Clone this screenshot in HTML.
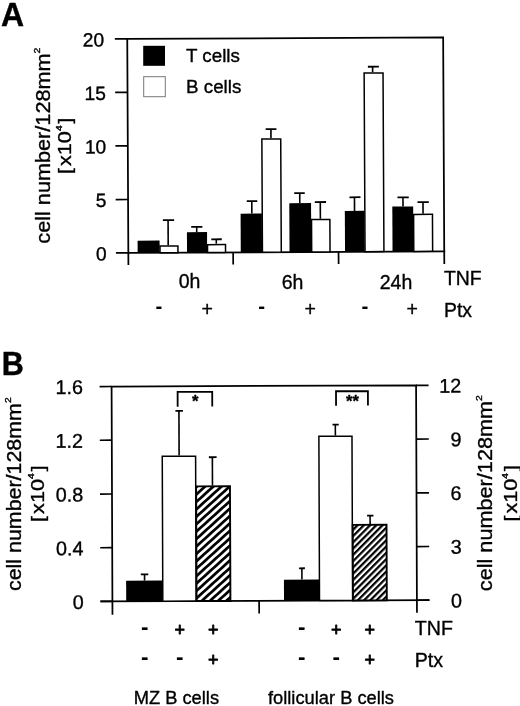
<!DOCTYPE html>
<html lang="en"><head><meta charset="utf-8"><title>Figure</title>
<style>html,body{margin:0;padding:0;background:#fff}svg{display:block}text{font-family:"Liberation Sans", Arial, Helvetica, sans-serif;fill:#000;stroke:#000;stroke-width:0.35px;stroke-linejoin:round}</style>
</head><body>
<svg width="520" height="706" viewBox="0 0 520 706">
<defs><pattern id="hatch" patternUnits="userSpaceOnUse" width="5.5" height="5.5" patternTransform="rotate(-42) translate(0 2.7)"><rect width="5.5" height="5.5" fill="#fff"/><rect y="0" width="5.5" height="2.7" fill="#000"/></pattern><pattern id="hatch2" patternUnits="userSpaceOnUse" width="4.42" height="4.42" patternTransform="rotate(-45) translate(0 0.5)"><rect width="4.42" height="4.42" fill="#fff"/><rect y="0" width="4.42" height="2.25" fill="#000"/></pattern></defs>
<rect width="520" height="706" fill="#fff"/>
<g id="panelA">
<text x="1.00" y="26.00" font-size="32.80" text-anchor="start" font-weight="bold" style="stroke-width:0.4px" transform="translate(1.0 0) scale(0.975 1) translate(-1.0 0)">A</text>
<g transform="rotate(-0.29 128 146)">
<path d="M127.80 265.00 V38.90 H443.70 V265.50" fill="none" stroke="#000" stroke-width="1.75"/>
<line x1="126.90" y1="252.90" x2="444.60" y2="252.90" stroke="#000" stroke-width="1.75"/>
<line x1="115.40" y1="38.90" x2="127.80" y2="38.90" stroke="#000" stroke-width="1.70"/>
<text x="104.60" y="46.30" font-size="19.20" text-anchor="end">20</text>
<line x1="115.40" y1="92.40" x2="127.80" y2="92.40" stroke="#000" stroke-width="1.70"/>
<text x="106.20" y="99.80" font-size="19.20" text-anchor="end">15</text>
<line x1="115.40" y1="145.90" x2="127.80" y2="145.90" stroke="#000" stroke-width="1.70"/>
<text x="106.20" y="153.30" font-size="19.20" text-anchor="end">10</text>
<line x1="115.40" y1="199.50" x2="127.80" y2="199.50" stroke="#000" stroke-width="1.70"/>
<text x="106.20" y="206.90" font-size="19.20" text-anchor="end">5</text>
<line x1="115.40" y1="252.90" x2="127.80" y2="252.90" stroke="#000" stroke-width="1.70"/>
<text x="106.20" y="260.30" font-size="19.20" text-anchor="end">0</text>
<line x1="232.60" y1="252.90" x2="232.60" y2="265.00" stroke="#000" stroke-width="1.70"/>
<line x1="338.00" y1="252.90" x2="338.00" y2="265.00" stroke="#000" stroke-width="1.70"/>
</g>
<text transform="translate(50.00 243.70) rotate(-90) scale(1.090 1)" font-size="19.9">cell number/128mm<tspan font-size="9.6" dy="-10">2</tspan></text>
<text transform="translate(71.20 174.00) rotate(-90) scale(1.17 1)" font-size="18.5">[<tspan dx="1.7">x10</tspan><tspan font-size="8.8" dy="-9.4">4</tspan><tspan dy="9.4" dx="1.5">]</tspan></text>
<rect x="143.2" y="45.8" width="21.8" height="20" fill="#000"/>
<rect x="143.7" y="76.7" width="21.6" height="20" fill="#fff" stroke="#777" stroke-width="1"/>
<text x="186.00" y="62.20" font-size="18.80" text-anchor="start">T cells</text>
<text x="186.00" y="93.10" font-size="18.80" text-anchor="start">B cells</text>
<g transform="rotate(-0.29 128 146)">
<rect x="137.10" y="240.75" width="22.00" height="12.15" fill="#000"/>
<line x1="167.70" y1="245.50" x2="167.70" y2="220.40" stroke="#000" stroke-width="1.60"/>
<line x1="162.50" y1="220.40" x2="173.75" y2="220.40" stroke="#000" stroke-width="1.80"/>
<rect x="159.50" y="246.25" width="17.90" height="6.65" fill="#fff" stroke="#000" stroke-width="1.5"/>
<line x1="196.30" y1="232.50" x2="196.30" y2="227.20" stroke="#000" stroke-width="1.60"/>
<line x1="190.80" y1="227.20" x2="202.00" y2="227.20" stroke="#000" stroke-width="1.80"/>
<rect x="186.50" y="232.50" width="20.10" height="20.40" fill="#000"/>
<line x1="215.80" y1="244.30" x2="215.80" y2="239.70" stroke="#000" stroke-width="1.60"/>
<line x1="210.80" y1="239.70" x2="221.30" y2="239.70" stroke="#000" stroke-width="1.80"/>
<rect x="207.00" y="245.05" width="18.00" height="7.85" fill="#fff" stroke="#000" stroke-width="1.5"/>
<line x1="251.50" y1="214.20" x2="251.50" y2="201.75" stroke="#000" stroke-width="1.60"/>
<line x1="246.50" y1="201.75" x2="257.00" y2="201.75" stroke="#000" stroke-width="1.80"/>
<rect x="240.25" y="214.20" width="21.25" height="38.70" fill="#000"/>
<line x1="271.00" y1="139.00" x2="271.00" y2="129.80" stroke="#000" stroke-width="1.60"/>
<line x1="265.75" y1="129.80" x2="276.50" y2="129.80" stroke="#000" stroke-width="1.80"/>
<rect x="261.90" y="139.75" width="18.85" height="113.15" fill="#fff" stroke="#000" stroke-width="1.5"/>
<line x1="299.50" y1="203.95" x2="299.50" y2="194.00" stroke="#000" stroke-width="1.60"/>
<line x1="294.00" y1="194.00" x2="304.50" y2="194.00" stroke="#000" stroke-width="1.80"/>
<rect x="289.00" y="203.95" width="21.75" height="48.95" fill="#000"/>
<line x1="320.00" y1="219.70" x2="320.00" y2="203.00" stroke="#000" stroke-width="1.60"/>
<line x1="314.50" y1="203.00" x2="325.75" y2="203.00" stroke="#000" stroke-width="1.80"/>
<rect x="311.15" y="220.45" width="18.35" height="32.45" fill="#fff" stroke="#000" stroke-width="1.5"/>
<line x1="354.20" y1="212.05" x2="354.20" y2="198.40" stroke="#000" stroke-width="1.60"/>
<line x1="349.20" y1="198.40" x2="360.20" y2="198.40" stroke="#000" stroke-width="1.80"/>
<rect x="344.50" y="212.05" width="19.60" height="40.85" fill="#000"/>
<line x1="373.00" y1="73.55" x2="373.00" y2="67.95" stroke="#000" stroke-width="1.60"/>
<line x1="368.30" y1="67.95" x2="379.30" y2="67.95" stroke="#000" stroke-width="1.80"/>
<rect x="364.50" y="74.30" width="18.90" height="178.60" fill="#fff" stroke="#000" stroke-width="1.5"/>
<line x1="402.70" y1="207.85" x2="402.70" y2="198.80" stroke="#000" stroke-width="1.60"/>
<line x1="397.20" y1="198.80" x2="408.50" y2="198.80" stroke="#000" stroke-width="1.80"/>
<rect x="392.00" y="207.85" width="20.85" height="45.05" fill="#000"/>
<line x1="422.70" y1="215.15" x2="422.70" y2="203.55" stroke="#000" stroke-width="1.60"/>
<line x1="417.20" y1="203.55" x2="428.50" y2="203.55" stroke="#000" stroke-width="1.80"/>
<rect x="413.25" y="215.90" width="18.85" height="37.00" fill="#fff" stroke="#000" stroke-width="1.5"/>
</g>
<text x="189.60" y="288.30" font-size="19.50" text-anchor="middle">0h</text>
<text x="292.50" y="288.60" font-size="19.50" text-anchor="middle">6h</text>
<text x="396.00" y="288.60" font-size="19.50" text-anchor="middle">24h</text>
<text x="444.00" y="285.30" font-size="19.40" text-anchor="start">TNF</text>
<text x="444.00" y="316.80" font-size="19.40" text-anchor="start">Ptx</text>
<text x="158.90" y="313.00" font-size="20.50" text-anchor="middle" font-weight="bold" style="stroke:none">-</text>
<text x="207.10" y="315.50" font-size="19.50" text-anchor="middle">+</text>
<text x="261.70" y="313.00" font-size="20.50" text-anchor="middle" font-weight="bold" style="stroke:none">-</text>
<text x="310.20" y="315.50" font-size="19.50" text-anchor="middle">+</text>
<text x="365.00" y="313.00" font-size="20.50" text-anchor="middle" font-weight="bold" style="stroke:none">-</text>
<text x="412.30" y="315.50" font-size="19.50" text-anchor="middle">+</text>
</g>
<g id="panelB">
<text x="1.80" y="375.20" font-size="32.50" text-anchor="start" font-weight="bold" style="stroke-width:0.4px" transform="translate(1.8 0) scale(0.94 1) translate(-1.8 0)">B</text>
<g transform="rotate(-0.22 112 494)">
<path d="M112.00 614.80 V386.50 H416.50 V614.00" fill="none" stroke="#000" stroke-width="1.75"/>
<line x1="100.00" y1="601.40" x2="429.00" y2="601.40" stroke="#000" stroke-width="1.75"/>
<line x1="100.00" y1="386.50" x2="112.00" y2="386.50" stroke="#000" stroke-width="1.70"/>
<line x1="416.50" y1="386.50" x2="429.00" y2="386.50" stroke="#000" stroke-width="1.70"/>
<text x="83.30" y="393.90" font-size="19.80" text-anchor="end">1.6</text>
<text x="461.60" y="393.90" font-size="19.80" text-anchor="end">12</text>
<line x1="100.00" y1="440.20" x2="112.00" y2="440.20" stroke="#000" stroke-width="1.70"/>
<line x1="416.50" y1="440.20" x2="429.00" y2="440.20" stroke="#000" stroke-width="1.70"/>
<text x="83.30" y="447.60" font-size="19.80" text-anchor="end">1.2</text>
<text x="461.60" y="447.60" font-size="19.80" text-anchor="end">9</text>
<line x1="100.00" y1="494.00" x2="112.00" y2="494.00" stroke="#000" stroke-width="1.70"/>
<line x1="416.50" y1="494.00" x2="429.00" y2="494.00" stroke="#000" stroke-width="1.70"/>
<text x="83.30" y="501.40" font-size="19.80" text-anchor="end">0.8</text>
<text x="461.60" y="501.40" font-size="19.80" text-anchor="end">6</text>
<line x1="100.00" y1="547.70" x2="112.00" y2="547.70" stroke="#000" stroke-width="1.70"/>
<line x1="416.50" y1="547.70" x2="429.00" y2="547.70" stroke="#000" stroke-width="1.70"/>
<text x="83.30" y="555.10" font-size="19.80" text-anchor="end">0.4</text>
<text x="461.60" y="555.10" font-size="19.80" text-anchor="end">3</text>
<line x1="100.00" y1="601.40" x2="112.00" y2="601.40" stroke="#000" stroke-width="1.70"/>
<line x1="416.50" y1="601.40" x2="429.00" y2="601.40" stroke="#000" stroke-width="1.70"/>
<text x="83.30" y="608.80" font-size="19.80" text-anchor="end">0</text>
<text x="461.60" y="608.80" font-size="19.80" text-anchor="end">0</text>
<line x1="258.70" y1="601.40" x2="258.70" y2="614.00" stroke="#000" stroke-width="1.70"/>
</g>
<text transform="translate(21.20 591.00) rotate(-90) scale(1.076 1)" font-size="19.9">cell number/128mm<tspan font-size="9.6" dy="-10">2</tspan></text>
<text transform="translate(43.60 521.90) rotate(-90) scale(1.17 1)" font-size="18.5">[<tspan dx="1.7">x10</tspan><tspan font-size="8.8" dy="-9.4">4</tspan><tspan dy="9.4" dx="1.5">]</tspan></text>
<text transform="translate(491.80 591.20) rotate(-90) scale(1.090 1)" font-size="19.9">cell number/128mm<tspan font-size="9.6" dy="-10">2</tspan></text>
<text transform="translate(517.00 521.60) rotate(-90) scale(1.17 1)" font-size="18.5">[<tspan dx="1.7">x10</tspan><tspan font-size="8.8" dy="-9.4">4</tspan><tspan dy="9.4" dx="1.5">]</tspan></text>
<g transform="rotate(-0.22 112 494)">
<line x1="144.25" y1="580.75" x2="144.25" y2="574.50" stroke="#000" stroke-width="1.60"/>
<line x1="140.50" y1="574.50" x2="148.00" y2="574.50" stroke="#000" stroke-width="1.80"/>
<rect x="125.80" y="580.75" width="36.20" height="20.65" fill="#000"/>
<line x1="179.25" y1="455.80" x2="179.25" y2="411.20" stroke="#000" stroke-width="1.60"/>
<line x1="175.75" y1="411.20" x2="183.25" y2="411.20" stroke="#000" stroke-width="1.80"/>
<rect x="162.40" y="456.55" width="33.35" height="144.85" fill="#fff" stroke="#000" stroke-width="1.5"/>
<line x1="212.50" y1="486.00" x2="212.50" y2="457.60" stroke="#000" stroke-width="1.60"/>
<line x1="209.00" y1="457.60" x2="216.75" y2="457.60" stroke="#000" stroke-width="1.80"/>
<rect x="196.15" y="486.75" width="33.85" height="114.65" fill="url(#hatch)" stroke="#000" stroke-width="1.9"/>
<line x1="301.60" y1="580.30" x2="301.60" y2="569.00" stroke="#000" stroke-width="1.60"/>
<line x1="298.80" y1="569.00" x2="304.60" y2="569.00" stroke="#000" stroke-width="1.80"/>
<rect x="283.60" y="580.30" width="35.10" height="21.10" fill="#000"/>
<line x1="335.60" y1="436.30" x2="335.60" y2="425.40" stroke="#000" stroke-width="1.60"/>
<line x1="332.80" y1="425.40" x2="339.00" y2="425.40" stroke="#000" stroke-width="1.80"/>
<rect x="319.10" y="437.05" width="33.10" height="164.35" fill="#fff" stroke="#000" stroke-width="1.5"/>
<line x1="370.00" y1="525.00" x2="370.00" y2="516.60" stroke="#000" stroke-width="1.60"/>
<line x1="367.00" y1="516.60" x2="373.40" y2="516.60" stroke="#000" stroke-width="1.80"/>
<rect x="352.60" y="525.75" width="33.80" height="75.65" fill="url(#hatch2)" stroke="#000" stroke-width="1.9"/>
<path d="M178 407 V392.2 H212.6 V407" fill="none" stroke="#000" stroke-width="1.8"/>
<path d="M336.4 406.6 V392.1 H368.3 V406.6" fill="none" stroke="#000" stroke-width="1.8"/>
</g>
<text x="195.30" y="407.40" font-size="16.50" text-anchor="middle" font-weight="bold">*</text>
<text x="352.40" y="407.20" font-size="16.50" text-anchor="middle" font-weight="bold">**</text>
<text x="144.80" y="634.00" font-size="22.50" text-anchor="middle" font-weight="bold" style="stroke:none">-</text>
<text x="144.80" y="664.40" font-size="22.50" text-anchor="middle" font-weight="bold" style="stroke:none">-</text>
<text x="179.80" y="636.30" font-size="18.00" text-anchor="middle" style="stroke-width:0.8px">+</text>
<text x="179.80" y="664.40" font-size="22.50" text-anchor="middle" font-weight="bold" style="stroke:none">-</text>
<text x="213.30" y="636.30" font-size="18.00" text-anchor="middle" style="stroke-width:0.8px">+</text>
<text x="213.30" y="666.10" font-size="18.00" text-anchor="middle" style="stroke-width:0.8px">+</text>
<text x="301.80" y="634.00" font-size="22.50" text-anchor="middle" font-weight="bold" style="stroke:none">-</text>
<text x="301.80" y="664.40" font-size="22.50" text-anchor="middle" font-weight="bold" style="stroke:none">-</text>
<text x="336.30" y="636.30" font-size="18.00" text-anchor="middle" style="stroke-width:0.8px">+</text>
<text x="336.30" y="664.40" font-size="22.50" text-anchor="middle" font-weight="bold" style="stroke:none">-</text>
<text x="369.70" y="636.30" font-size="18.00" text-anchor="middle" style="stroke-width:0.8px">+</text>
<text x="369.70" y="666.10" font-size="18.00" text-anchor="middle" style="stroke-width:0.8px">+</text>
<text x="414.80" y="635.00" font-size="19.60" text-anchor="start">TNF</text>
<text x="414.80" y="666.50" font-size="19.60" text-anchor="start">Ptx</text>
<text x="176.40" y="703.50" font-size="18.30" text-anchor="middle">MZ B cells</text>
<text x="331.00" y="703.50" font-size="18.30" text-anchor="middle">follicular B cells</text>
</g>
</svg></body></html>
